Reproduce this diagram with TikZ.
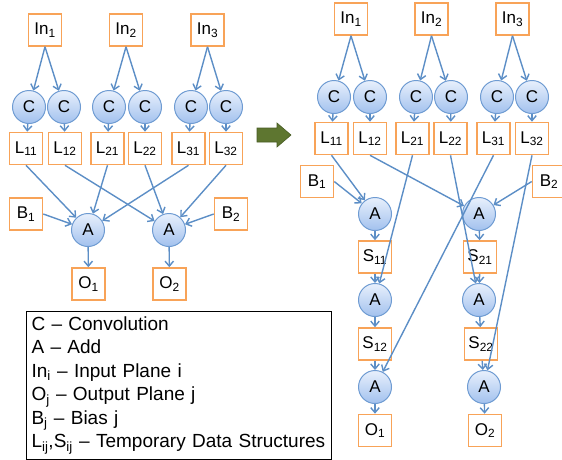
\documentclass[tikz,border=0pt]{standalone}
\usepackage{fontspec}
\setmainfont{Liberation Sans}
\usetikzlibrary{arrows.meta}

\definecolor{boxorange}{RGB}{248,163,88}
\definecolor{flowblue}{RGB}{92,142,198}
\definecolor{opline}{RGB}{110,155,210}
\definecolor{optop}{RGB}{232,240,252}
\definecolor{opbottom}{RGB}{162,193,238}
\definecolor{olivegreen}{RGB}{94,118,48}
\definecolor{olivedark}{RGB}{72,92,36}

\begin{document}
\begin{tikzpicture}[x=1pt, y=-1pt,
  data/.style={draw=boxorange, line width=1.6pt, fill=white, minimum width=33pt,
    minimum height=32pt, inner sep=0pt, font=\fontsize{17}{18}\selectfont},
  op/.style={circle, draw=opline, line width=1pt, top color=optop, bottom color=opbottom,
    minimum size=33pt, inner sep=0pt, font=\fontsize{17}{18}\selectfont},
  flow/.style={draw=flowblue, line width=1.4pt, -{Straight Barb[length=5pt,width=8.5pt]}}]

\useasboundingbox (0,0) rectangle (562,459);
\clip (0,0) rectangle (562,459);

%─────────────
% Direct form (left)
%─────────────
\foreach \i/\x in {1/45, 2/126, 3/207.5}
  \node[data] (lIn\i) at (\x,30) {In\textsubscript{\i}};
\foreach \n/\x in {11/29, 12/64, 21/109, 22/145, 31/191, 32/226}
  \node[op] (lC\n) at (\x,107) {C};
\foreach \n/\x in {11/26, 12/65, 21/107.5, 22/145, 31/188.5, 32/226}
  \node[data] (lL\n) at (\x,148.5) {L\textsubscript{\n}};

\node[data] (lB1) at (26,214) {B\textsubscript{1}};
\node[data] (lB2) at (231,214) {B\textsubscript{2}};
\node[op] (lA1) at (88,230) {A};
\node[op] (lA2) at (169,230) {A};
\node[data] (lO1) at (88.5,284) {O\textsubscript{1}};
\node[data] (lO2) at (169.5,284) {O\textsubscript{2}};

\foreach \i in {1,2,3} {
  \draw[flow] (lIn\i.south) -- (lC\i1);
  \draw[flow] (lIn\i.south) -- (lC\i2);
  \draw[flow] (lC\i1) -- (lL\i1);
  \draw[flow] (lC\i2) -- (lL\i2);
  \draw[flow] (lL\i1.south) -- (lA1);
  \draw[flow] (lL\i2.south) -- (lA2);
}
\draw[flow] (lB1.east) -- (lA1);
\draw[flow] (lB2.west) -- (lA2);
\draw[flow] (lA1) -- (lO1);
\draw[flow] (lA2) -- (lO2);

%─────────────
% Transform arrow
%─────────────
\draw[draw=olivedark, fill=olivegreen, line width=0.6pt]
  (257,128) -- (277,128) -- (277,123) -- (291,135) -- (277,147) -- (277,142) -- (257,142) -- cycle;

%─────────────
% Chained form (right)
%─────────────
\foreach \i/\x in {1/351, 2/431.5, 3/512.5}
  \node[data] (rIn\i) at (\x,19) {In\textsubscript{\i}};
\foreach \n/\x in {11/334, 12/370, 21/416, 22/451, 31/497, 32/532}
  \node[op] (rC\n) at (\x,97) {C};
\foreach \n/\x in {11/331.5, 12/370, 21/412.5, 22/450.5, 31/493.5, 32/532}
  \node[data] (rL\n) at (\x,138.5) {L\textsubscript{\n}};

\node[data] (rB1) at (317,181.5) {B\textsubscript{1}};
\node[data] (rB2) at (549,181.5) {B\textsubscript{2}};

% first output chain
\node[op]   (rA11) at (375,214) {A};
\node[data] (rS11) at (375,257) {S\textsubscript{11}};
\node[op]   (rA12) at (375,300) {A};
\node[data] (rS12) at (375,344) {S\textsubscript{12}};
\node[op]   (rA13) at (375,387) {A};
\node[data] (rO1)  at (375,430.5) {O\textsubscript{1}};

% second output chain
\node[op]   (rA21) at (479,214) {A};
\node[data] (rS21) at (480,257) {S\textsubscript{21}};
\node[op]   (rA22) at (479,300) {A};
\node[data] (rS22) at (481,344) {S\textsubscript{22}};
\node[op]   (rA23) at (484,387) {A};
\node[data] (rO2)  at (485,430.5) {O\textsubscript{2}};

\foreach \i in {1,2,3} {
  \draw[flow] (rIn\i.south) -- (rC\i1);
  \draw[flow] (rIn\i.south) -- (rC\i2);
  \draw[flow] (rC\i1) -- (rL\i1);
  \draw[flow] (rC\i2) -- (rL\i2);
}
\foreach \j in {1,2} {
  \draw[flow] (rA\j1) -- (rS\j1);
  \draw[flow] (rS\j1) -- (rA\j2);
  \draw[flow] (rA\j2) -- (rS\j2);
  \draw[flow] (rS\j2) -- (rA\j3);
  \draw[flow] (rA\j3) -- (rO\j);
}
\draw[flow] (rB1.east) -- (rA11);
\draw[flow] (rB2.west) -- (rA21);
\draw[flow] (rL11.south) -- (rA11);
\draw[flow] (rL12.south) -- (rA21);
\draw[flow] (rL21.south) -- (rA12);
\draw[flow] (rL22.south) -- (rA22);
\draw[flow] (rL31.south) -- (rA13);
\draw[flow] (rL32.south) -- (rA23);

%─────────────
% Legend
%─────────────
\node[draw=black, line width=1pt, anchor=north west, text width=295pt, align=left,
  inner xsep=5pt, inner ysep=5pt, font=\fontsize{19}{23.5}\selectfont] (legend) at (26,311)
  {C -- Convolution\\
   A -- Add\\
   In\textsubscript{i} -- Input Plane i\\
   O\textsubscript{j} -- Output Plane j\\
   B\textsubscript{j} -- Bias j\\
   L\textsubscript{ij},S\textsubscript{ij} -- Temporary Data Structures};

\end{tikzpicture}
\end{document}
